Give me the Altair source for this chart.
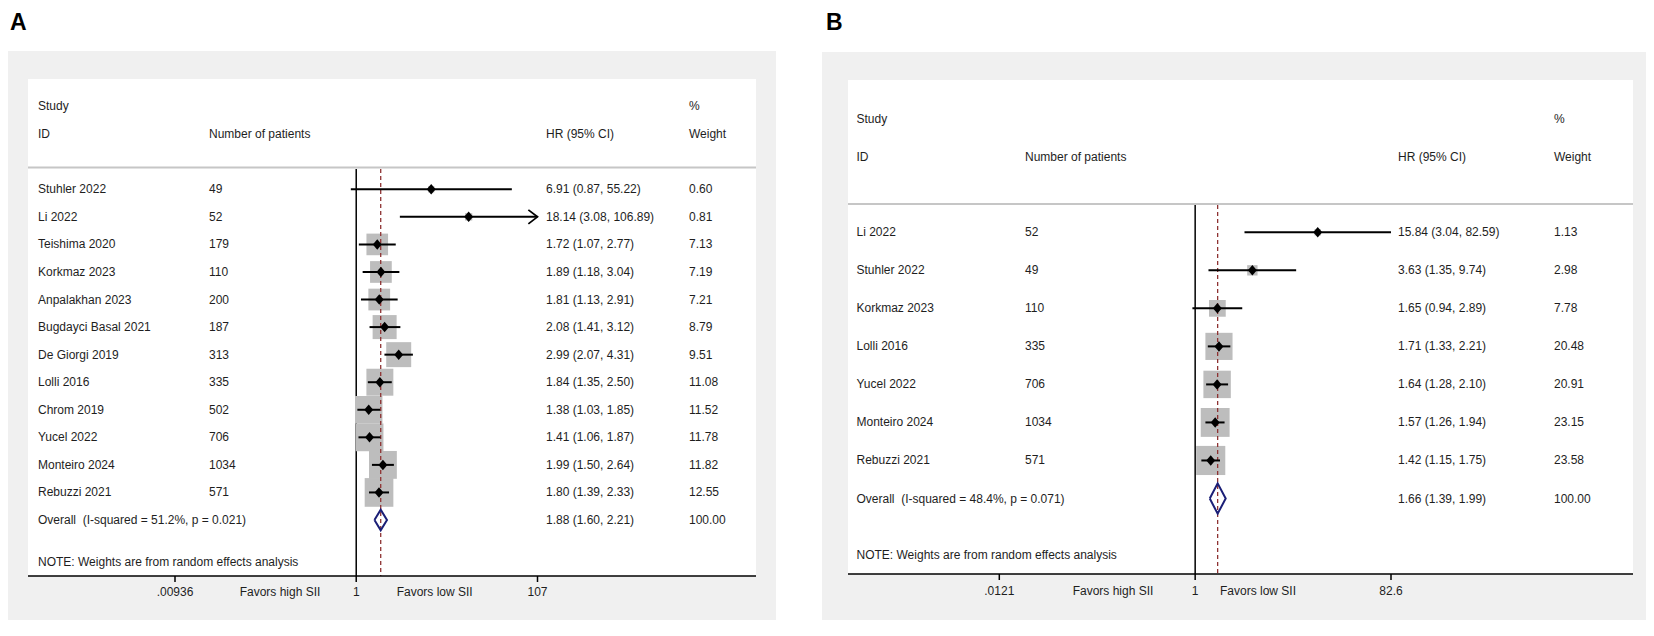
import altair as alt
import pandas as pd

FONT = "Liberation Sans"
TXT = "#1e1e1e"

# ---------------- Panel A data ----------------
studies_a = ["Stuhler 2022", "Li 2022", "Teishima 2020", "Korkmaz 2023", "Anpalakhan 2023",
             "Bugdayci Basal 2021", "De Giorgi 2019", "Lolli 2016", "Chrom 2019", "Yucel 2022",
             "Monteiro 2024", "Rebuzzi 2021"]
patients_a = [49, 52, 179, 110, 200, 187, 313, 335, 502, 706, 1034, 571]
hr_a = [6.91, 18.14, 1.72, 1.89, 1.81, 2.08, 2.99, 1.84, 1.38, 1.41, 1.99, 1.80]
lo_a = [0.87, 3.08, 1.07, 1.18, 1.13, 1.41, 2.07, 1.35, 1.03, 1.06, 1.50, 1.39]
hi_a = [55.22, 106.89, 2.77, 3.04, 2.91, 3.12, 4.31, 2.50, 1.85, 1.87, 2.64, 2.33]
weight_a = [0.60, 0.81, 7.13, 7.19, 7.21, 8.79, 9.51, 11.08, 11.52, 11.78, 11.82, 12.55]
overall_label_a = "Overall\u00a0 (I-squared = 51.2%, p = 0.021)"
overall_a = [1.88, 1.60, 2.21]
ticks_a = [0.00936, 1, 107]
tick_labels_a = [".00936", "1", "107"]
arrows_a = ["Li 2022"]

# ---------------- Panel B data ----------------
studies_b = ["Li 2022", "Stuhler 2022", "Korkmaz 2023", "Lolli 2016", "Yucel 2022",
             "Monteiro 2024", "Rebuzzi 2021"]
patients_b = [52, 49, 110, 335, 706, 1034, 571]
hr_b = [15.84, 3.63, 1.65, 1.71, 1.64, 1.57, 1.42]
lo_b = [3.04, 1.35, 0.94, 1.33, 1.28, 1.26, 1.15]
hi_b = [82.59, 9.74, 2.89, 2.21, 2.10, 1.94, 1.75]
weight_b = [1.13, 2.98, 7.78, 20.48, 20.91, 23.15, 23.58]
overall_label_b = "Overall\u00a0 (I-squared = 48.4%, p = 0.071)"
overall_b = [1.66, 1.39, 1.99]
ticks_b = [0.0121, 1, 82.6]
tick_labels_b = [".0121", "1", "82.6"]
arrows_b = []

header_top = ["Study", "%"]
header_bottom = ["ID", "Number of patients", "HR (95% CI)", "Weight"]
note_text = "NOTE: Weights are from random effects analysis"
favors_text = ["Favors high SII", "Favors low SII"]
null_value = [1.0]

GEO_A = dict(W=768, H=612, gray=(0, 768, 43, 612), white=(20, 748, 71, 568),
             xr=(167, 529.5), yr=(181.3, 512),
             cols=dict(study=30, n=201, hr=538, wt=681),
             hy1=98, hy2=126, sep=159.5, reftop=161, axis=568, note=554, lab=583.7,
             favx=(272, 426.7), k2=65.6, dh=0.3755, plx=0, panel="A")
GEO_B = dict(W=824, H=612, gray=(0, 824, 44, 612), white=(26, 811, 72, 566),
             xr=(177.3, 569), yr=(224.3, 490.5),
             cols=dict(study=34.5, n=203, hr=576, wt=732),
             hy1=111, hy2=149, sep=196, reftop=197, axis=566, note=547, lab=582.7,
             favx=(291, 436), k2=36.0, dh=0.40, plx=2, panel="B")

PT_DIAMOND = "M-0.85,0L0,-1L0.85,0L0,1Z"
ARROW = "M-1.3,-1L0,0L-1.3,1"


def build_panel(geo, studies, patients, hr, lo, hi, weight, ov_label, ov, ticks, tick_labels, arrows):
    n = len(studies)
    rows = pd.DataFrame({
        "pos": list(range(n)),
        "label": studies,
        "ntext": [str(v) for v in patients],
        "hr": hr, "lo": lo, "hi": hi, "weight": weight,
    })
    rows["hrtext"] = [f"{a:.2f} ({b:.2f}, {c:.2f})" for a, b, c in zip(hr, lo, hi)]
    rows["wtext"] = [f"{v:.2f}" for v in weight]
    ov_row = pd.DataFrame({
        "pos": [n], "label": [ov_label], "ntext": [""], "hr": [ov[0]], "lo": [ov[1]],
        "hi": [ov[2]], "weight": [100.0],
        "hrtext": [f"{ov[0]:.2f} ({ov[1]:.2f}, {ov[2]:.2f})"], "wtext": ["100.00"],
    })
    alltab = pd.concat([rows, ov_row], ignore_index=True)
    dh = geo["dh"]
    diamond = pd.DataFrame({
        "i": [0, 1, 2, 3, 4],
        "x": [ov[1], ov[0], ov[2], ov[0], ov[1]],
        "pos": [n, n - dh, n, n + dh, n],
    })
    tickdf = pd.DataFrame({"v": ticks, "lab": tick_labels})
    one = pd.DataFrame({"k": [0]})

    xs = alt.Scale(type="log", domain=[ticks[0], ticks[-1]], range=list(geo["xr"]), nice=False)
    ys = alt.Scale(domain=[0, n], range=list(geo["yr"]), nice=False, zero=False)
    X = lambda f: alt.X(f, scale=xs, axis=None)
    Y = alt.Y("pos:Q", scale=ys, axis=None)

    g, w = geo["gray"], geo["white"]
    layers = []
    layers.append(alt.Chart(one).mark_rect(color="#f0f0f0").encode(
        x=alt.value(g[0]), x2=alt.value(g[1]), y=alt.value(g[2]), y2=alt.value(g[3])))
    layers.append(alt.Chart(one).mark_rect(color="white").encode(
        x=alt.value(w[0]), x2=alt.value(w[1]), y=alt.value(w[2]), y2=alt.value(w[3])))
    layers.append(alt.Chart(one).mark_rule(color="#c6c6c6", strokeWidth=2).encode(
        x=alt.value(w[0]), x2=alt.value(w[1]), y=alt.value(geo["sep"])))
    # null line
    layers.append(alt.Chart(pd.DataFrame({"v": null_value})).mark_rule(color="black", strokeWidth=1.5).encode(
        x=X("v:Q"), y=alt.value(geo["reftop"]), y2=alt.value(geo["axis"])))
    # weight boxes
    layers.append(alt.Chart(rows).mark_square(color="#bdbdbd", opacity=1).encode(
        x=X("hr:Q"), y=Y,
        size=alt.Size("weight:Q", scale=alt.Scale(domain=[0, 100], range=[0, 100 * geo["k2"]]), legend=None)))
    # overall dashed line
    layers.append(alt.Chart(pd.DataFrame({"v": [ov[0]]})).mark_rule(
        color="#8e3232", strokeWidth=1.3, strokeDash=[4, 3]).encode(
        x=X("v:Q"), y=alt.value(geo["reftop"]), y2=alt.value(geo["axis"])))
    # CI lines
    layers.append(alt.Chart(rows).mark_rule(color="black", strokeWidth=2).encode(
        x=X("lo:Q"), x2=alt.X2("hi:Q"), y=Y))
    # point estimates
    layers.append(alt.Chart(rows).mark_point(shape=PT_DIAMOND, filled=True, color="black",
                                             size=110, opacity=1).encode(x=X("hr:Q"), y=Y))
    if arrows:
        layers.append(alt.Chart(rows[rows["label"].isin(arrows)]).mark_point(
            shape=ARROW, filled=False, color="black", strokeWidth=1.8, size=196, opacity=1).encode(
            x=X("hi:Q"), y=Y))
    # overall diamond
    layers.append(alt.Chart(diamond).mark_line(color="#1b1f77", strokeWidth=2, strokeJoin="miter").encode(
        x=X("x:Q"), y=Y, order="i:O"))
    # text columns
    tk = dict(align="left", baseline="middle", font=FONT, fontSize=12, color=TXT)
    for col, field in [("study", "label"), ("n", "ntext"), ("hr", "hrtext"), ("wt", "wtext")]:
        layers.append(alt.Chart(alltab).mark_text(**tk).encode(
            x=alt.value(geo["cols"][col]), y=Y, text=f"{field}:N"))
    # headers
    for txt, col in zip(header_top, ["study", "wt"]):
        layers.append(alt.Chart(one).mark_text(text=txt, **tk).encode(
            x=alt.value(geo["cols"][col]), y=alt.value(geo["hy1"])))
    for txt, col in zip(header_bottom, ["study", "n", "hr", "wt"]):
        layers.append(alt.Chart(one).mark_text(text=txt, **tk).encode(
            x=alt.value(geo["cols"][col]), y=alt.value(geo["hy2"])))
    layers.append(alt.Chart(one).mark_text(text=note_text, **tk).encode(
        x=alt.value(geo["cols"]["study"]), y=alt.value(geo["note"])))
    # axis
    layers.append(alt.Chart(one).mark_rule(color="black", strokeWidth=1.6).encode(
        x=alt.value(w[0]), x2=alt.value(w[1]), y=alt.value(geo["axis"])))
    layers.append(alt.Chart(tickdf).mark_rule(color="black", strokeWidth=1.5).encode(
        x=X("v:Q"), y=alt.value(geo["axis"]), y2=alt.value(geo["axis"] + 6)))
    tc = dict(align="center", baseline="middle", font=FONT, fontSize=12, color=TXT)
    layers.append(alt.Chart(tickdf).mark_text(**tc).encode(
        x=X("v:Q"), y=alt.value(geo["lab"]), text="lab:N"))
    for txt, fx in zip(favors_text, geo["favx"]):
        layers.append(alt.Chart(one).mark_text(text=txt, **tc).encode(
            x=alt.value(fx), y=alt.value(geo["lab"])))
    # panel letter
    layers.append(alt.Chart(one).mark_text(text=geo["panel"], align="left", baseline="middle",
                                           font=FONT, fontSize=23, fontWeight="bold", color="black").encode(
        x=alt.value(geo["plx"] + 2), y=alt.value(15)))
    return alt.layer(*layers).properties(width=geo["W"], height=geo["H"])


pa = build_panel(GEO_A, studies_a, patients_a, hr_a, lo_a, hi_a, weight_a, overall_label_a, overall_a,
                 ticks_a, tick_labels_a, arrows_a)
pb = build_panel(GEO_B, studies_b, patients_b, hr_b, lo_b, hi_b, weight_b, overall_label_b, overall_b,
                 ticks_b, tick_labels_b, arrows_b)

chart = (alt.hconcat(pa, pb, spacing=46)
         .resolve_scale(size="independent")
         .properties(padding=0, background="white")
         .configure_view(stroke=None))
chart.save("out.html", embed_options={"renderer": "svg", "actions": False})
